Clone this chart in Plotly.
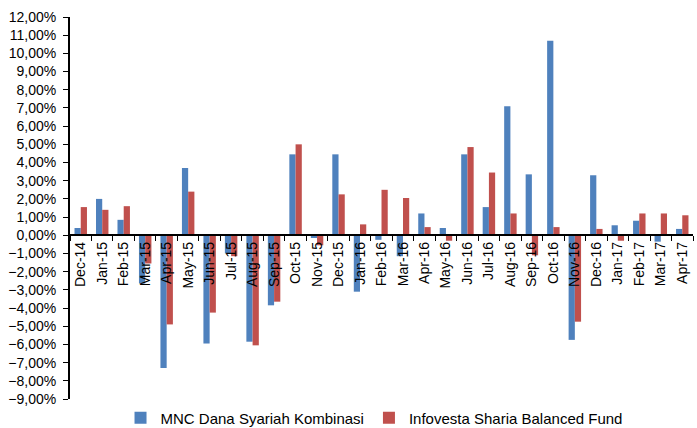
import plotly.graph_objects as go

categories = ["Dec-14", "Jan-15", "Feb-15", "Mar-15", "Apr-15", "May-15", "Jun-15", "Jul-15",
              "Aug-15", "Sep-15", "Oct-15", "Nov-15", "Dec-15", "Jan-16", "Feb-16", "Mar-16",
              "Apr-16", "May-16", "Jun-16", "Jul-16", "Aug-16", "Sep-16", "Oct-16", "Nov-16",
              "Dec-16", "Jan-17", "Feb-17", "Mar-17", "Apr-17"]

mnc_values = [0.40, 2.00, 0.85, -2.65, -7.30, 3.70, -5.95, -1.00, -5.85, -3.85, 4.45, -0.15,
              4.45, -3.10, -0.25, -1.15, 1.20, 0.40, 4.45, 1.55, 7.10, 3.35, 10.70, -5.75,
              3.30, 0.55, 0.80, -0.35, 0.35]

infovesta_values = [1.55, 1.40, 1.60, -1.55, -4.90, 2.40, -4.25, -1.15, -6.05, -3.65, 5.00, -0.55,
                    2.25, 0.60, 2.50, 2.05, 0.45, -0.30, 4.85, 3.45, 1.20, -1.10, 0.45, -4.75,
                    0.35, -0.30, 1.20, 1.20, 1.10]

series_names = ["MNC Dana Syariah Kombinasi", "Infovesta Sharia Balanced Fund"]
y_min, y_max = -9, 12

FONT = "Liberation Sans, Arial, sans-serif"

fig = go.Figure()
fig.add_trace(go.Bar(x=categories, y=mnc_values, name=series_names[0],
                     marker=dict(color="#4F81BD", line=dict(width=0))))
fig.add_trace(go.Bar(x=categories, y=infovesta_values, name=series_names[1],
                     marker=dict(color="#C0504D", line=dict(width=0))))

fig.update_layout(
    width=697, height=428, autosize=False,
    margin=dict(l=70, r=4, t=17, b=29, autoexpand=False),
    paper_bgcolor="white", plot_bgcolor="white",
    barmode="group", bargap=0.42, bargroupgap=0,
    separators=",.",
    font=dict(family=FONT, size=14, color="black"),
    showlegend=True,
    legend=dict(orientation="h", x=0.488, xanchor="center", y=-0.05, yanchor="middle",
                font=dict(family=FONT, size=15, color="black"),
                itemwidth=30, traceorder="normal"),
    xaxis=dict(
        type="category", automargin=False,
        anchor="free", position=(0 - y_min) / (y_max - y_min),
        showline=True, linecolor="black", linewidth=2,
        ticks="outside", ticklen=5, tickcolor="black", tickwidth=1,
        tickson="boundaries",
        tickangle=-90, tickfont=dict(family=FONT, size=14, color="black"),
        showgrid=False, zeroline=False,
    ),
    yaxis=dict(
        range=[y_min, y_max], dtick=1, tick0=0, automargin=False,
        tickformat=".2f", ticksuffix="%",
        showline=True, linecolor="black", linewidth=2,
        ticks="outside", ticklen=5, tickcolor="black", tickwidth=1,
        ticklabelstandoff=4,
        tickfont=dict(family=FONT, size=14, color="black"),
        showgrid=False, zeroline=False,
    ),
)

fig.write_html("out.html", config={"displayModeBar": False},
               post_script="document.body.style.margin='0';")
